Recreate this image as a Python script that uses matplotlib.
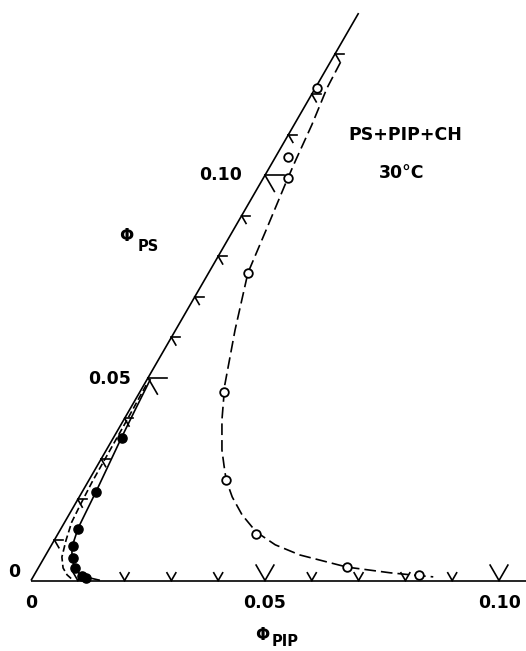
import numpy as np
import matplotlib

matplotlib.use("Agg")
import matplotlib.pyplot as plt

"""
Ternary corner PS + PIP + CH at 30 C.
All compositions are (phi_PIP, phi_PS) volume fractions read off the figure.
"""

# open circles (cloud points)
open_pip = [0.0004, 0.0027, 0.0053, 0.0084, 0.0180, 0.0293, 0.0423, 0.0659, 0.0822]
open_ps = [0.1216, 0.1045, 0.0993, 0.0759, 0.0465, 0.0248, 0.0115, 0.0033, 0.0014]

# filled circles
filled_pip = [0.0019, 0.0030, 0.0037, 0.0047, 0.0062, 0.0079, 0.0103, 0.0115]
filled_ps = [0.0352, 0.0218, 0.0127, 0.0085, 0.0056, 0.0031, 0.0011, 0.0006]

# dashed curve through the open circles
cloud_pip = [0.0022, 0.0025, 0.0038, 0.0047, 0.0053, 0.0070, 0.0084, 0.0127, 0.0173, 0.0210,
             0.0247, 0.0271, 0.0293, 0.0327, 0.0370, 0.0421, 0.0478, 0.0543, 0.0659, 0.0758,
             0.0823, 0.0855]
cloud_ps = [0.1279, 0.1215, 0.1124, 0.1038, 0.0988, 0.0865, 0.0759, 0.0618, 0.0482, 0.0396,
            0.0322, 0.0283, 0.0248, 0.0206, 0.0162, 0.0120, 0.0088, 0.0063, 0.0033, 0.0019,
            0.0012, 0.0009]

# solid curve through the filled circles
solid_pip = [0.0007, 0.0012, 0.0017, 0.0029, 0.0036, 0.0046, 0.0062, 0.0088, 0.0111, 0.0145]
solid_ps = [0.0495, 0.0421, 0.0354, 0.0223, 0.0130, 0.0083, 0.0051, 0.0021, 0.0009, 0.0001]

# dashed curve next to the PS axis
inner_pip = [0.0005, 0.0007, 0.0008, 0.0009, 0.0012, 0.0015, 0.0025, 0.0037, 0.0053, 0.0070, 0.0089]
inner_ps = [0.0482, 0.0401, 0.0322, 0.0243, 0.0186, 0.0144, 0.0100, 0.0058, 0.0031, 0.0014, 0.0001]

pip_ticks = [0.01, 0.02, 0.03, 0.04, 0.05, 0.06, 0.07, 0.08, 0.09, 0.10]
ps_ticks = [0.01, 0.02, 0.03, 0.04, 0.05, 0.06, 0.07, 0.08, 0.09, 0.10, 0.11, 0.12, 0.13]
major_ticks = [0.05, 0.10]

S3 = np.sqrt(3) / 2


def to_xy(pip, ps):
    pip = np.asarray(pip, dtype=float)
    ps = np.asarray(ps, dtype=float)
    return pip + ps / 2, ps * S3


def px(x, y):
    # pixel position in the 526x651 picture -> figure fraction
    return x / 526, 1 - y / 651


fig = plt.figure(figsize=(5.26, 6.51), dpi=100)
ax = fig.add_axes([0, 0, 1, 1])
ax.set_xlim(-31 / 4680, 495 / 4680)
ax.set_ylim(-70.5 / 4680, 580.5 / 4680)
ax.set_aspect("equal")
ax.axis("off")

lw = 1.2
# axes of the triangle
x, y = to_xy([0, 0.12], [0, 0])
ax.plot(x, y, color="black", lw=lw, solid_capstyle="butt")
x, y = to_xy([0, 0], [0, 0.14])
ax.plot(x, y, color="black", lw=lw, solid_capstyle="butt")

# tick marks: short stubs along the other ternary grid directions
for t in pip_ticks:
    L = 0.0038 if t in major_ticks else 0.0019
    x0, y0 = to_xy(t, 0)
    for ang in (60, 120):
        a = np.radians(ang)
        ax.plot([x0, x0 + L * np.cos(a)], [y0, y0 + L * np.sin(a)], color="black", lw=lw)
for t in ps_ticks:
    L = 0.0040 if t in major_ticks else 0.0019
    x0, y0 = to_xy(0, t)
    for ang in (0, -60):
        a = np.radians(ang)
        ax.plot([x0, x0 + L * np.cos(a)], [y0, y0 + L * np.sin(a)], color="black", lw=lw)

# curves
x, y = to_xy(cloud_pip, cloud_ps)
ax.plot(x, y, color="black", lw=lw, dashes=(7, 3))
x, y = to_xy(solid_pip, solid_ps)
ax.plot(x, y, color="black", lw=lw)
x, y = to_xy(inner_pip, inner_ps)
ax.plot(x, y, color="black", lw=lw, dashes=(4, 2))

# data points
x, y = to_xy(open_pip, open_ps)
ax.plot(x, y, "o", ms=6.2, mfc="white", mec="black", mew=1.3, ls="none", zorder=5)
x, y = to_xy(filled_pip, filled_ps)
ax.plot(x, y, "o", ms=6.6, mfc="black", mec="black", ls="none", zorder=5)

font = dict(family="DejaVu Sans", weight="bold", color="black")
fs = 12.5

fig.text(*px(14, 572), "0", ha="center", va="center", fontsize=fs, **font)
fig.text(*px(31, 603), "0", ha="center", va="center", fontsize=fs, **font)
fig.text(*px(265, 603), "0.05", ha="center", va="center", fontsize=fs, **font)
fig.text(*px(500, 603), "0.10", ha="center", va="center", fontsize=fs, **font)
fig.text(*px(110, 379), "0.05", ha="center", va="center", fontsize=fs, **font)
fig.text(*px(221, 175), "0.10", ha="center", va="center", fontsize=fs, **font)

fig.text(*px(126.5, 236), "Φ", ha="center", va="center", fontsize=12, **font)
fig.text(*px(148, 246.5), "PS", ha="center", va="center", fontsize=10.5, **font)
fig.text(*px(262, 635), "Φ", ha="center", va="center", fontsize=12, **font)
fig.text(*px(285, 641), "PIP", ha="center", va="center", fontsize=10.5, **font)

fig.text(*px(405, 134.5), "PS+PIP+CH", ha="center", va="center", fontsize=fs, **font)
fig.text(*px(402, 173), "30°C", ha="center", va="center", fontsize=fs, **font)

fig.savefig("out.png", dpi=100, facecolor="white")
